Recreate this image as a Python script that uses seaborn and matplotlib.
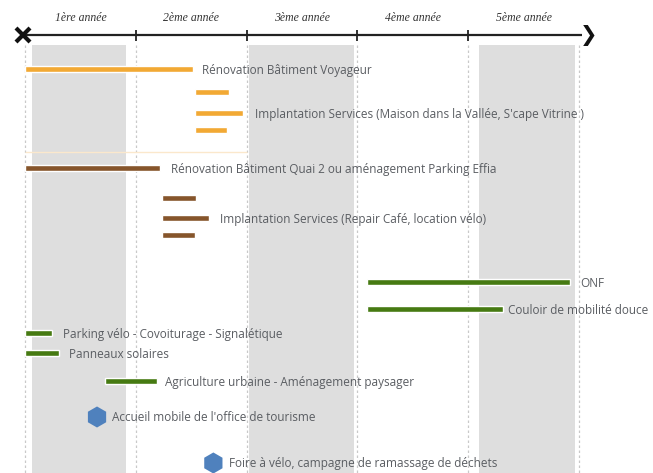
import numpy as np
import pandas as pd
import matplotlib
matplotlib.use("Agg")
import matplotlib.pyplot as plt
import seaborn as sns

# ---------------- data ----------------
years = ["1ère année", "2ème année", "3ème année", "4ème année", "5ème année"]

bar_labels = [
    "Rénovation Bâtiment Voyageur", "",
    "Implantation Services (Maison dans la Vallée, S'cape Vitrine )", "",
    "Rénovation Bâtiment Quai 2 ou aménagement Parking Effia", "",
    "Implantation Services (Repair Café, location vélo)", "",
    "ONF", "Couloir de mobilité douce",
    "Parking vélo - Covoiturage - Signalétique", "Panneaux solaires",
    "Agriculture urbaine - Aménagement paysager",
]
bar_start = [0.0, 1.53, 1.53, 1.53, 0.0, 1.24, 1.24, 1.24, 3.09, 3.09, 0.0, 0.0, 0.72]
bar_end = [1.52, 1.84, 1.97, 1.82, 1.22, 1.54, 1.66, 1.53, 4.92, 4.31, 0.24, 0.31, 1.19]
bar_group = ["gare", "gare", "gare", "gare", "quai", "quai", "quai", "quai",
             "vert", "vert", "vert", "vert", "vert"]

milestone_labels = ["Accueil mobile de l'office de tourisme",
                    "Foire à vélo, campagne de ramassage de déchets"]
milestone_time = [0.65, 1.70]

# ---------------- layout / style ----------------
bar_rows = [69, 92, 113, 130, 168, 198, 218, 235, 282, 309, 333, 353, 381]
label_gap_px = [9, 0, 12, 0, 11, 0, 11, 0, 10, 5, 11, 10, 8]
milestone_rows = [417, 463]
group_colors = {"gare": "#f2a934", "quai": "#86552b", "vert": "#467a12"}
gray_bands = [(0.06, 0.91), (2.02, 2.97), (4.10, 4.96)]
text_color = "#5a5d62"
label_size = 8.5

sns.set_theme(style="white")
plt.rcParams["font.family"] = ["Open Sans", "DejaVu Sans"]

fig = plt.figure(figsize=(6.53, 4.73), dpi=100)
ax = fig.add_axes([0, 0, 1, 1])
px = 110.8
ax.set_xlim(-25 / px, 628 / px)
ax.set_ylim(473, 0)
ax.axis("off")

# background bands and dashed guides
for a, b in gray_bands:
    ax.axvspan(a, b, ymin=0, ymax=(473 - 45) / 473, color="#dedede", lw=0, zorder=0)
for k in range(len(years) + 1):
    ax.vlines(k, 45, 473, colors="#c9c9c9", linestyles=(0, (2, 2)), lw=0.9, zorder=0.5)

# faint separator
ax.hlines(152, 0, 2.0, colors="#fbe8cc", lw=1, zorder=0.6)

# time axis
ax.hlines(35, 0, 5.03, colors="#222222", lw=1.6, zorder=3)
ax.vlines(range(1, len(years)), 30, 41, colors="#222222", lw=1.3, zorder=3)
ax.plot([-0.02], [35], marker="x", ms=10, mew=3, color="#111111", zorder=4)
ax.text(5.09, 35.5, "❯", fontsize=15, fontweight="bold", color="#111111",
        ha="center", va="center", family=["DejaVu Sans"], zorder=4)
for k, y in enumerate(years):
    ax.text(k + 0.5, 18, y, fontsize=8.5, style="italic", color="#333333",
            ha="center", va="center", family=["Liberation Serif", "DejaVu Serif"])

# bars
df = pd.DataFrame({"label": bar_labels, "start": bar_start, "end": bar_end,
                   "group": bar_group, "row": bar_rows, "gap": label_gap_px})
for _, r in df.iterrows():
    ax.barh(r["row"], r["end"] - r["start"], left=r["start"], height=5.5,
            color=group_colors[r["group"]], zorder=2)
    if r["label"]:
        grp = df[(df["group"] == r["group"]) & (abs(df["row"] - r["row"]) < 25)]
        xend = grp["end"].max() if r["label"].startswith("Implantation") else r["end"]
        ax.annotate(r["label"], (xend, r["row"]), xytext=(r["gap"] * 0.72, -1),
                    textcoords="offset points", ha="left", va="center",
                    fontsize=label_size, color=text_color, zorder=3)

# milestones
ms = pd.DataFrame({"t": milestone_time, "row": milestone_rows, "label": milestone_labels})
sns.scatterplot(data=ms, x="t", y="row", marker="h", s=230, color="#4f81bd",
                edgecolor="none", ax=ax, zorder=3, legend=False)
for _, r in ms.iterrows():
    ax.annotate(r["label"], (r["t"], r["row"]), xytext=(11, -0.5),
                textcoords="offset points", ha="left", va="center",
                fontsize=label_size, color=text_color)
ax.set_xlim(-25 / px, 628 / px)
ax.set_ylim(473, 0)
ax.axis("off")

fig.savefig("out.png", dpi=100)
